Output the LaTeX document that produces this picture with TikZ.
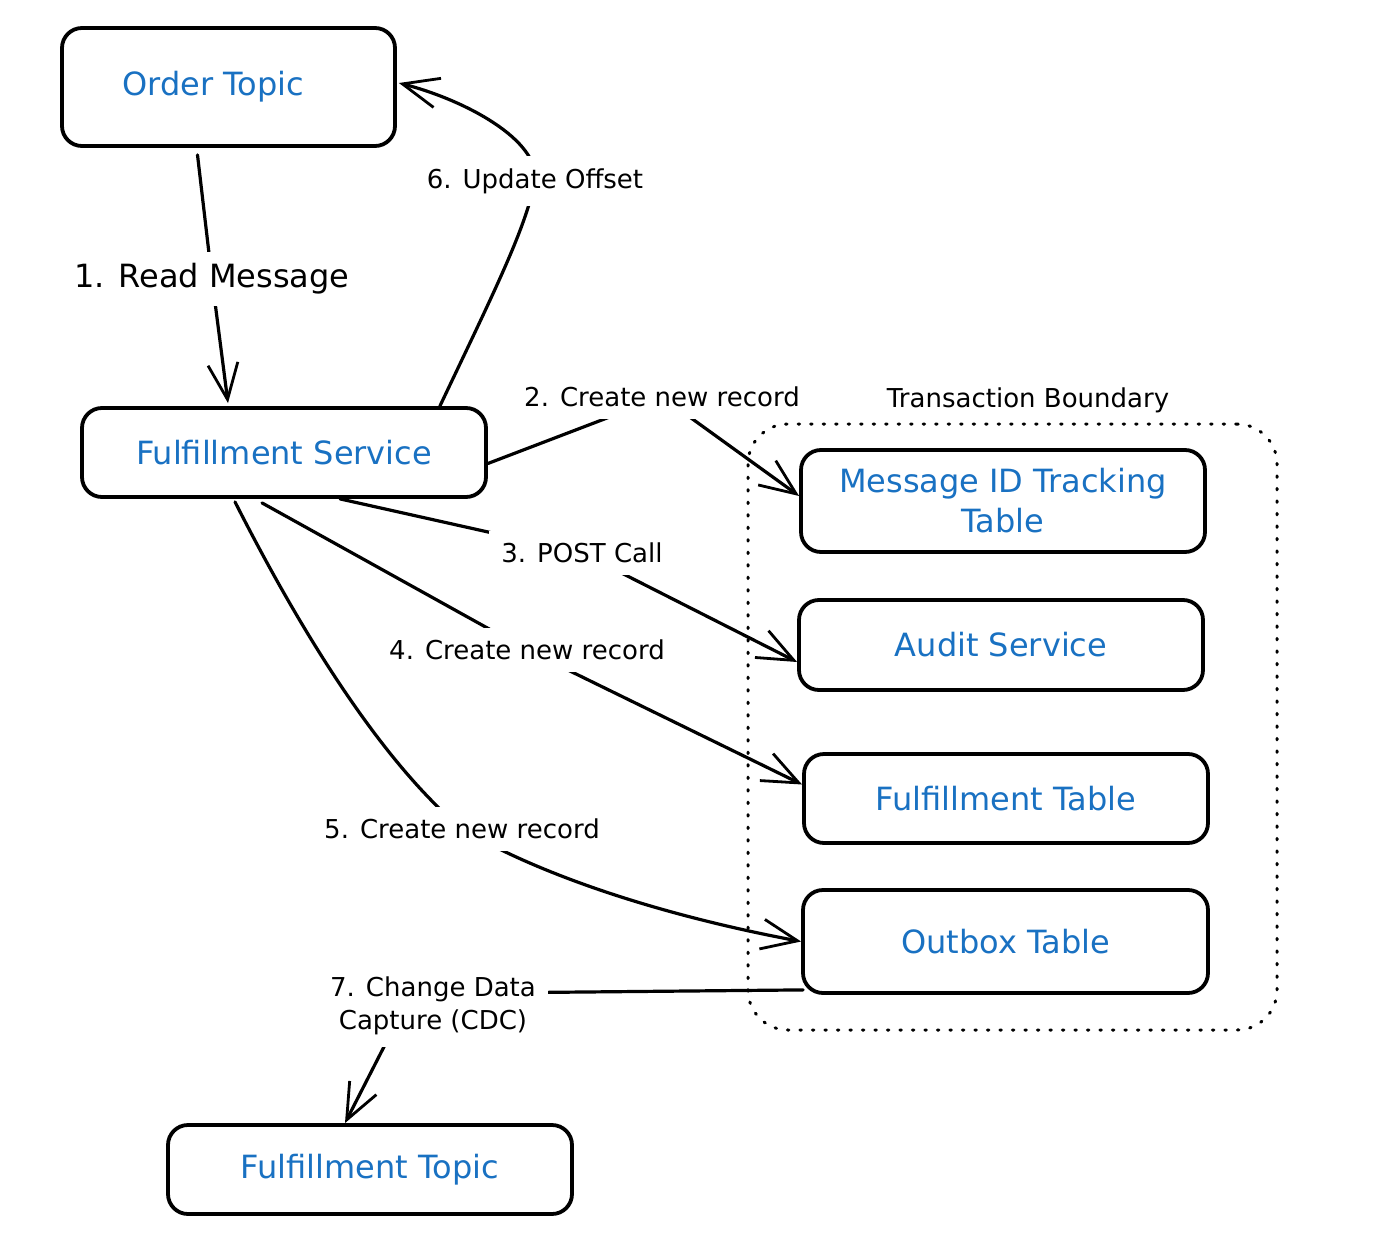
\documentclass[tikz,border=0pt]{standalone}
\usepackage{fontspec}
\setmainfont{DejaVu Sans}
\usetikzlibrary{arrows.meta,calc}
\definecolor{exblue}{HTML}{1971C2}
\pgfdeclarelayer{back}
\pgfdeclarelayer{bg}
\pgfsetlayers{back,bg,main}
\begin{document}
\begin{tikzpicture}[x=1pt,y=-1pt,
  box/.style={draw, line width=3.8pt, rounded corners=20pt, fill=white, text=exblue,
    font=\fontsize{32}{40}\selectfont, align=center, inner sep=0pt},
  lbl/.style={fill=white, inner xsep=12pt, inner ysep=12pt, font=\fontsize{26}{33}\selectfont, align=center},
  arr/.style={line width=3.2pt, -{Straight Barb[length=36pt,width=30pt,line width=2.8pt]},
    line cap=round, line join=round},
  boundary/.style={draw, line width=3pt, rounded corners=40pt, line cap=round,
    dash pattern=on 1.5pt off 11pt, inner sep=0pt}
]
\begin{pgfonlayer}{back}
\fill[white] (0,0) rectangle (1400,1244);
\end{pgfonlayer}
\useasboundingbox (0,0) rectangle (1400,1244);

% boxes
\node[box, minimum width=333pt, minimum height=118pt] (ot) at (228.5,87) {\hspace*{-30pt}Order Topic};
\node[box, minimum width=404pt, minimum height=89pt] (fs) at (284,452.5) {Fulfillment Service};
\node[box, minimum width=404pt, minimum height=102pt] (mit) at (1003,501) {Message ID Tracking\\Table};
\node[box, minimum width=404pt, minimum height=90pt] (au) at (1001,645) {Audit Service};
\node[box, minimum width=404pt, minimum height=89pt] (ft) at (1006,798.5) {Fulfillment Table};
\node[box, minimum width=405pt, minimum height=103pt] (ob) at (1005.5,941.5) {Outbox Table};
\node[box, minimum width=404pt, minimum height=89pt] (ftp) at (370,1169.5) {Fulfillment Topic};

% transaction boundary
\node[boundary, minimum width=529pt, minimum height=606pt] (tb) at (1012.5,727) {};
\node[font=\fontsize{26}{33}\selectfont, inner sep=0pt] (ltb) at (1028,400) {Transaction Boundary};

% labels
\node[lbl, font=\fontsize{32}{40}\selectfont] (l1) at (212,279) {1. Read Message};
\node[lbl] (l2) at (662,397) {2. Create new record};
\node[lbl] (l3) at (582,553) {3. POST Call};
\node[lbl] (l4) at (527,650) {4. Create new record};
\node[lbl] (l5) at (462,829) {5. Create new record};
\node[lbl] (l6) at (535,181) {6. Update Offset};
\node[lbl] (l7) at (433,1006) {7. Change Data\\Capture (CDC)};

\coordinate (c7a) at (480,993);
\coordinate (c7b) at (390,1035);

\begin{pgfonlayer}{bg}
\draw[arr] ($(ot.south)+(-31,7)$) -- (l1.center) -- ($(fs.north)+(-56,-3)$);
\draw[arr] ($(fs.east)+(0,11)$) -- (l2.center) -- ($(mit.west)+(0,-5)$);
\draw[arr] ($(fs.south)+(56,0)$) -- (l3.center) -- ($(au.west)+(0,17)$);
\draw[arr] ($(fs.south)+(-22,4)$) -- (l4.center) -- ($(ft.west)+(0,-14)$);
\draw[arr] ($(fs.south)+(-49,3)$) .. controls (300,630) and (380,760) .. (l5.center)
  .. controls (540,875) and (660,915) .. (ob.west);
\draw[arr] ($(fs.north east)+(-48,0)$) .. controls (495,290) and (525,230) .. (l6.center)
  .. controls (540,140) and (465,100) .. ($(ot.east)+(2,-4)$);
\draw[arr] ($(ob.south west)+(2,-5)$) -- (c7a) -- (c7b) -- ($(ftp.north)+(-25,0)$);
\end{pgfonlayer}
\end{tikzpicture}
\end{document}
